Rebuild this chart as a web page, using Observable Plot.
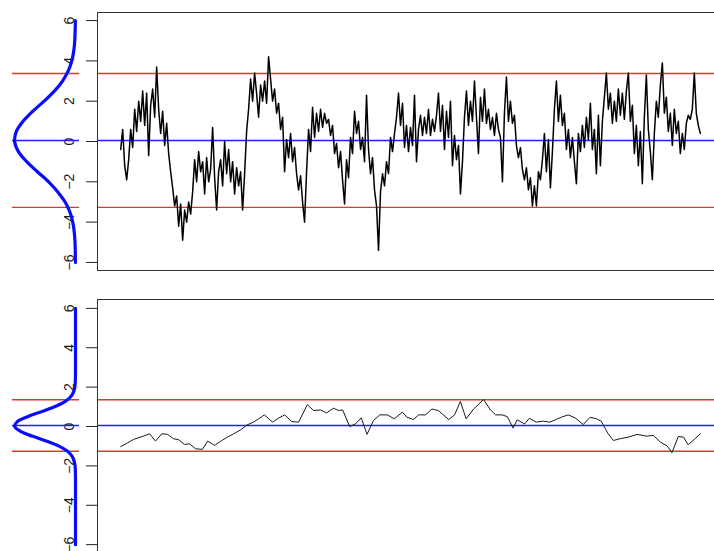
<!DOCTYPE html>
<html><head><meta charset="utf-8">
<script src="https://cdn.jsdelivr.net/npm/d3@7"></script>
<script src="https://cdn.jsdelivr.net/npm/@observablehq/plot@0.6"></script>
<style>
html,body{margin:0;padding:0;background:#fff;overflow:hidden;}
#wrap{position:relative;width:714px;height:551px;overflow:hidden;}
#wrap svg{position:absolute;left:0;}
</style></head><body><div id="wrap"></div>
<script>
// Top panel: raw series (evenly spaced in time 0..1000)
const topValues = [
-0.4,0.6,-1.2,-1.9,-0.9,0.6,-0.3,1.6,0.5,2.0,
1.0,2.5,0.8,2.4,-0.7,1.8,2.6,1.2,3.7,1.6,
0.4,1.5,-0.2,0.9,-0.6,-1.5,-2.3,-3.2,-2.7,-4.2,
-3.1,-4.9,-3.4,-4.0,-3.0,-3.6,-2.5,-0.9,-2.0,-0.5,
-1.5,-1.0,-2.6,-0.8,-2.0,-1.4,0.7,-1.8,-3.4,-1.5,
-0.9,-2.2,0.0,-1.6,-0.4,-2.0,-1.0,-2.6,-1.3,-2.2,
-1.5,-3.4,-1.6,0.5,1.6,3.1,2.0,3.4,2.4,1.2,
2.8,2.0,3.0,1.9,4.2,3.1,2.0,2.6,1.4,1.9,
0.6,1.2,-1.5,0.1,-0.8,0.4,-1.0,-0.3,-1.6,-2.4,
-1.7,-3.0,-4.0,-1.5,0.6,-0.5,1.7,0.2,1.4,0.5,
1.6,0.7,1.4,0.9,1.1,0.3,0.8,-0.6,-0.1,-1.3,
-0.5,-1.9,-3.1,-0.9,-1.8,0.2,-0.6,1.5,0.4,1.0,
-0.4,0.2,-1.0,2.3,-0.4,-1.6,-0.8,-2.4,-3.2,-5.4,
-2.5,-1.6,-2.2,-1.0,-1.6,0.2,-0.5,0.4,1.2,2.4,
0.8,1.9,-0.3,0.8,-0.5,0.7,-0.2,2.3,-1.0,0.6,
1.3,0.3,1.2,0.4,1.6,0.3,1.1,0.5,1.3,2.4,
0.5,1.8,-0.4,1.5,0.2,2.0,-1.2,0.3,-0.9,-0.2,
-2.6,-1.0,1.2,2.5,0.8,2.0,1.0,3.0,1.2,-0.6,
2.2,1.0,2.6,0.9,1.6,0.6,1.2,0.3,1.4,0.6,
0.2,-2.0,1.4,3.2,1.0,2.0,0.9,1.3,-0.2,-0.8,
-0.3,-1.4,-1.9,-1.3,-2.4,-1.8,-3.2,-2.2,-3.2,-1.5,
-1.9,-0.9,0.4,-1.5,0.1,-2.3,-0.5,1.6,3.0,1.0,
2.3,0.8,1.4,-0.4,0.6,-0.8,0.2,-1.0,-2.1,0.4,
-0.5,0.8,-0.3,1.2,0.1,1.9,-0.4,0.6,-1.6,1.3,
-1.2,1.0,2.2,3.4,1.6,2.4,0.9,2.0,1.0,2.6,
1.3,2.4,1.1,2.5,3.4,1.0,1.8,-0.6,0.8,-1.2,
0.5,-2.1,1.2,3.3,0.6,-0.5,-1.9,0.4,2.0,1.2,
2.8,3.9,1.4,2.2,0.5,1.4,-0.2,1.6,0.4,1.0,
-0.6,0.4,-0.4,0.9,1.3,1.1,1.6,3.4,1.4,0.8,
0.4
];
// Bottom panel: smoothed series (time, value)
const bottomTime = [
0,12,22,37,50,60,71,81,91,100,110,119,129,141,150,162,172,184,195,207,
218,229,238,248,262,272,283,295,307,322,333,345,355,367,376,383,395,405,415,425,
436,447,460,472,486,494,505,514,526,537,548,566,576,586,596,609,626,638,647,658,
667,677,684,697,705,717,729,740,750,760,772,784,798,810,821,829,841,850,862,876,
891,907,919,931,943,951,962,971,979,991,1000
];
const bottomValues = [
-1.02,-0.83,-0.66,-0.51,-0.37,-0.74,-0.37,-0.40,-0.62,-0.67,-0.91,-0.88,-1.13,-1.16,-0.74,-0.96,-0.76,-0.54,-0.37,-0.17,
0.08,0.22,0.39,0.59,0.22,0.42,0.59,0.25,0.22,1.11,0.81,0.84,0.69,0.93,0.81,0.84,0.00,0.13,0.44,-0.40,
0.30,0.59,0.59,0.39,0.73,0.47,0.35,0.59,0.59,0.89,0.81,0.35,0.59,1.27,0.39,0.89,1.37,0.84,0.59,0.59,
0.50,-0.08,0.34,0.13,0.42,0.22,0.27,0.22,0.34,0.47,0.59,0.44,0.10,0.47,0.39,0.27,-0.37,-0.71,-0.62,-0.54,
-0.40,-0.49,-0.45,-0.79,-0.99,-1.33,-0.51,-0.54,-0.93,-0.62,-0.37
];
// Centre and control lines
const topCenter = [0.05];
const topControl = [3.37, -3.27];
const bottomCenter = [0.05];
const bottomControl = [1.36, -1.26];
const yTicks = [-6, -4, -2, 0, 2, 4, 6];
// Sideways density curves (relative height)
const topDensityY = [-6,-5,-4.5,-4,-3.5,-3,-2.5,-2,-1.5,-1,-0.5,0,0.5,1,1.5,2,2.5,3,3.5,4,4.5,5,6];
const topDensity = [0.001,0.008,0.02,0.045,0.092,0.17,0.29,0.44,0.625,0.80,0.936,0.998,0.97,0.86,0.70,0.515,0.347,0.213,0.119,0.061,0.028,0.012,0.002];
const bottomDensityY = [-6,-3,-2.5,-2,-1.75,-1.5,-1.25,-1,-0.75,-0.5,-0.25,0,0.25,0.5,0.75,1,1.25,1.5,1.75,2,2.5,3,6];
const bottomDensity = [0,0,0.0005,0.007,0.022,0.058,0.135,0.27,0.47,0.70,0.90,0.997,0.954,0.787,0.56,0.344,0.18,0.083,0.033,0.011,0.001,0,0];

const wrap = document.getElementById("wrap");
const font = "'Liberation Sans', Arial, Helvetica, sans-serif";
const RED = "#f03030";
const BLUE = "#1f1fff";

function panel({series, center, control, dens, yDomain, top, height, marginTop, marginBottom, lineColor, lineWidth}) {
  const style = {fontFamily: font, fontSize: "14px", color: "#1a1a1a", background: "transparent", maxWidth: "none", overflow: "visible"};
  const main = Plot.plot({
    width: 724, height, marginLeft: 97, marginRight: 1, marginTop, marginBottom,
    x: {domain: [-40, 1040], axis: null},
    y: {domain: yDomain, axis: null},
    style,
    marks: [
      Plot.ruleY(control, {stroke: RED, strokeWidth: 1.4}),
      Plot.ruleY(center, {stroke: BLUE, strokeWidth: 1.3}),
      Plot.line(series, {x: "t", y: "v", stroke: lineColor, strokeWidth: lineWidth}),
      Plot.frame({stroke: "#333"}),
      Plot.axisY({ticks: yTicks, anchor: "left", label: null, tickSize: 11, tickRotate: -90, tickPadding: 13, stroke: "#222", fill: "#1a1a1a"})
    ]
  });
  main.style.top = top + "px";
  const side = Plot.plot({
    width: 79, height, marginLeft: 12, marginRight: 0, marginTop, marginBottom,
    x: {domain: [0, 1], range: [75, 14], axis: null},
    y: {domain: yDomain, axis: null},
    style,
    marks: [
      Plot.ruleY(control, {stroke: RED, strokeWidth: 1.4}),
      Plot.ruleY(center, {stroke: BLUE, strokeWidth: 1.3}),
      Plot.line(dens, {x: "d", y: "y", curve: "catmull-rom", stroke: "#0a0aff", strokeWidth: 3.2})
    ]
  });
  side.style.top = top + "px";
  wrap.appendChild(main);
  wrap.appendChild(side);
}

const topSeries = topValues.map((v, i) => ({t: i * 1000 / (topValues.length - 1), v}));
const bottomSeries = bottomValues.map((v, i) => ({t: bottomTime[i], v}));
const topDens = topDensityY.map((y, i) => ({y, d: topDensity[i]}));
const bottomDens = bottomDensityY.map((y, i) => ({y, d: bottomDensity[i]}));

panel({series: topSeries, center: topCenter, control: topControl, dens: topDens,
  yDomain: [-6.4, 6.4], top: 0, height: 271, marginTop: 12, marginBottom: 1, lineColor: "#000", lineWidth: 1.5});
panel({series: bottomSeries, center: bottomCenter, control: bottomControl, dens: bottomDens,
  yDomain: [-6.45, 6.45], top: 287, height: 267, marginTop: 12, marginBottom: 1, lineColor: "#1a1a1a", lineWidth: 1});
</script></body></html>
